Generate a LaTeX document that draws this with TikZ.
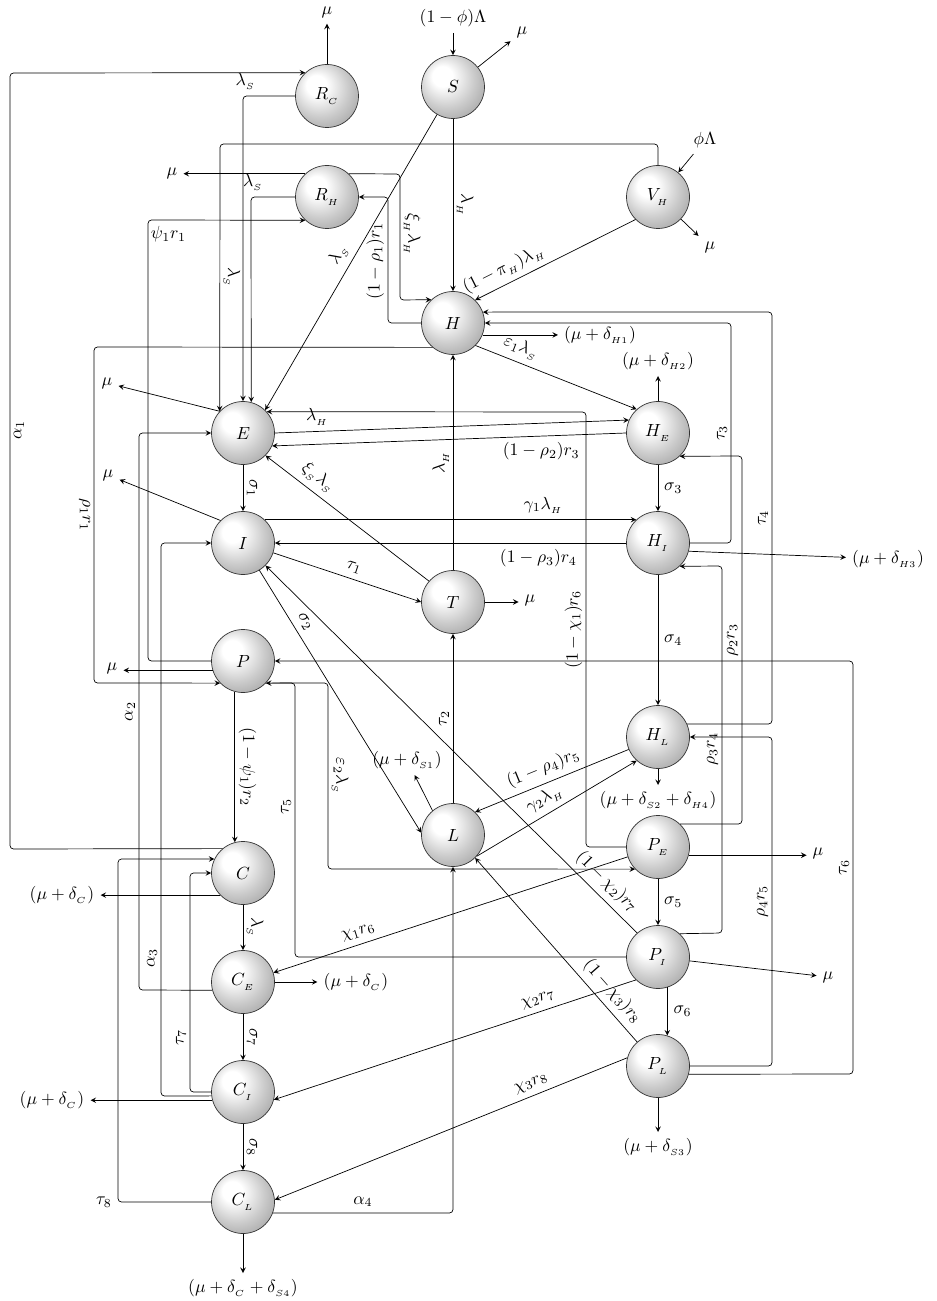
\documentclass[tikz,border=0pt]{standalone}
\pgfdeclareradialshading{silver}{\pgfpoint{-10bp}{10bp}}{color(0bp)=(white); color(8bp)=(white); color(22bp)=(black!20); color(36bp)=(black!38); color(50bp)=(black!60)}
\begin{document}
\begin{tikzpicture}[>=stealth, rounded corners=2pt,
  comp/.style={circle, draw=black!80, shading=silver, minimum size=1.26cm, inner sep=0pt},
  lblup/.style={rotate=90, inner sep=2pt},
  lbldn/.style={rotate=-90, inner sep=2pt}]
\useasboundingbox (0,0) rectangle (18.72,-26.02);
\node[comp] (RC) at (6.54,-1.92) {$R_{_C}$};
\node[comp] (S) at (9.06,-1.74) {$S$};
\node[comp] (RH) at (6.54,-3.94) {$R_{_H}$};
\node[comp] (VH) at (13.16,-3.94) {$V_{_H}$};
\node[comp] (H) at (9.06,-6.46) {$H$};
\node[comp] (E) at (4.86,-8.66) {$E$};
\node[comp] (HE) at (13.16,-8.66) {$H_{_E}$};
\node[comp] (I) at (4.86,-10.86) {$I$};
\node[comp] (HI) at (13.16,-10.86) {$H_{_I}$};
\node[comp] (T) at (9.06,-12.04) {$T$};
\node[comp] (P) at (4.86,-13.22) {$P$};
\node[comp] (HL) at (13.16,-14.74) {$H_{_L}$};
\node[comp] (L) at (9.06,-16.70) {$L$};
\node[comp] (PE) at (13.16,-16.94) {$P_{_E}$};
\node[comp] (C) at (4.86,-17.46) {$C$};
\node[comp] (PI) at (13.16,-19.14) {$P_{_I}$};
\node[comp] (CE) at (4.86,-19.64) {$C_{_E}$};
\node[comp] (PL) at (13.16,-21.32) {$P_{_L}$};
\node[comp] (CI) at (4.86,-21.84) {$C_{_I}$};
\node[comp] (CL) at (4.86,-24.04) {$C_{_L}$};
\node (inS) at (9.06,-0.36) {$(1-\phi)\Lambda$};
\node (inVH) at (14.10,-2.80) {$\phi\Lambda$};
\node (muS) at (10.44,-0.64) {$\mu$};
\node (muRC) at (6.54,-0.24) {$\mu$};
\node (muRH) at (3.44,-3.46) {$\mu$};
\node (muVH) at (14.20,-4.94) {$\mu$};
\node (muH) at (12.00,-6.70) {$(\mu+\delta_{_{H1}})$};
\node (muHE) at (13.16,-7.22) {$(\mu+\delta_{_{H2}})$};
\node (muE) at (2.14,-7.66) {$\mu$};
\node (muI) at (2.16,-9.50) {$\mu$};
\node (muHI) at (17.76,-11.18) {$(\mu+\delta_{_{H3}})$};
\node (muT) at (10.60,-12.00) {$\mu$};
\node (muP) at (2.24,-13.36) {$\mu$};
\node (muL) at (8.14,-15.20) {$(\mu+\delta_{_{S1}})$};
\node (muHL) at (13.16,-16.00) {$(\mu+\delta_{_{S2}}+\delta_{_{H4}})$};
\node (muPE) at (16.36,-17.06) {$\mu$};
\node (muC) at (1.24,-17.90) {$(\mu+\delta_{_C})$};
\node (muCE) at (7.12,-19.64) {$(\mu+\delta_{_C})$};
\node (muPI) at (16.56,-19.54) {$\mu$};
\node (muCI) at (1.04,-22.00) {$(\mu+\delta_{_C})$};
\node (muPL) at (13.16,-22.94) {$(\mu+\delta_{_{S3}})$};
\node (muCL) at (4.86,-25.76) {$(\mu+\delta_{_C}+\delta_{_{S4}})$};
\draw[->] (inS) -- (S);
\draw[->] (S) -- (muS);
\draw[->] (RC) -- (muRC);
\draw[->] (inVH) -- (VH);
\draw[->] (VH) -- (muVH);
\draw[->] (C.130) -- (0.20,-16.98) -- node[lblup, below, pos=.54] {$\alpha_1$} (0.20,-1.46) -- (RC.133);
\draw[->] (RC.west) -- node[pos=.95, above] {$\lambda_{_S}$} (4.86,-1.92) -- (E.north);
\draw[->] (VH.north) -- (13.16,-2.88) -- (4.40,-2.88) -- node[lbldn, above] {$\lambda_{_S}$} (E.137);
\draw[->] (RH.west) -- node[pos=.95, above] {$\lambda_{_S}$} (5.02,-3.94) -- (E.75);
\draw[->] (S) -- node[sloped, above] {$\lambda_{_S}$} (E.46);
\draw[->] (S) -- node[lbldn, above] {$\lambda_{_H}$} (H);
\draw[->] (RH.47) -- (8.00,-3.48) -- node[lbldn, above, pos=.48] {$\xi_{_H}\lambda_{_H}$} (8.00,-6.00) -- (H.133);
\draw[->] (RH.133) -- (RH.133 -| muRH.east);
\draw[->] (H.west) -- (7.76,-6.46) -- node[lblup, above, pos=.49] {$(1-\rho_1)r_1$} (7.76,-3.94) -- (RH.east);
\draw[->] (P.west) -- (2.96,-13.22) -- (2.96,-4.40) -- node[pos=.13, below] {$\psi_1r_1$} (RH.227);
\draw[->] (H.230) -- (1.88,-6.94) -- node[lbldn, below] {$\rho_1r_1$} (1.88,-13.66) -- (P.224);
\draw[->] (VH.225) -- node[sloped, above, pos=.78] {$(1-\pi_{_H})\lambda_{_H}$} (H.46);
\draw[->] (T) -- node[lblup, above] {$\lambda_{_H}$} (H);
\draw[->] (L) -- node[lblup, above] {$\tau_2$} (T);
\draw[->] (H.-22) -- (H.-22 -| muH.west);
\draw[->] (H.-45) -- node[sloped, above, pos=.25] {$\varepsilon_1\lambda_{_S}$} (HE.132);
\draw[->] (E.east) -- node[above, pos=.12] {$\lambda_{_H}$} (HE.156);
\draw[->] (HE.west) -- node[below, pos=.24] {$(1-\rho_2)r_3$} (E.-24);
\draw[->] (PE.west) -- (11.72,-16.94) -- node[lblup, above] {$(1-\chi_1)r_6$} (11.72,-8.24) -- (E.42);
\draw[->] (E) -- node[lbldn, above] {$\sigma_1$} (I);
\draw[->] (E.137) -- (muE);
\draw[->] (I.135) -- (muI);
\draw[->] (I.47) -- node[above, pos=.75] {$\gamma_1\lambda_{_H}$} (HI.133);
\draw[->] (HI.west) -- node[below, pos=.25] {$(1-\rho_3)r_4$} (I.east);
\draw[->] (I.-18) -- node[sloped, above, pos=.52] {$\tau_1$} (T.west);
\draw[->] (T.139) -- node[sloped, above, pos=.73] {$\xi_{_S}\lambda_{_S}$} (E.-45);
\draw[->] (T.east) -- (T.east -| muT.west);
\draw[->] (I.-59) -- node[sloped, above, pos=.22] {$\sigma_2$} (L.176);
\draw[->] (PI.131) -- node[sloped, above, pos=.11] {$(1-\chi_2)r_7$} (I.-45);
\draw[->] (PL.131) -- node[sloped, above, pos=.22] {$(1-\chi_3)r_8$} (L.-46);
\draw[->] (HL.203) -- node[sloped, above, pos=.52] {$(1-\rho_4)r_5$} (L.46);
\draw[->] (L.-42) -- node[sloped, above, pos=.47] {$\gamma_2\lambda_{_H}$} (HL.228);
\draw[->] (L.130) -- (muL);
\draw[->] (HE) -- node[right] {$\sigma_3$} (HI);
\draw[->] (HI) -- node[right] {$\sigma_4$} (HL);
\draw[->] (PE) -- node[right] {$\sigma_5$} (PI);
\draw[->] (PI.-73) -- node[right] {$\sigma_6$} (PL.73);
\draw[->] (HE) -- (muHE);
\draw[->] (HI.-15) -- (muHI);
\draw[->] (HL) -- (muHL);
\draw[->] (PE.-15) -- (PE.-15 -| muPE.west);
\draw[->] (PI.-7) -- (muPI);
\draw[->] (PL) -- (muPL);
\draw[->] (HI.east) -- (14.62,-10.86) -- node[lblup, above] {$\tau_3$} (14.62,-6.46) -- (H.east);
\draw[->] (HL.24) -- (15.44,-14.48) -- node[lblup, above] {$\tau_4$} (15.44,-6.24) -- (H.20);
\draw[->] (PE.46) -- (14.84,-16.48) -- node[lblup, above] {$\rho_2r_3$} (14.84,-9.12) -- (HE.-47);
\draw[->] (PI.47) -- (14.44,-18.66) -- node[lblup, above] {$\rho_3r_4$} (14.44,-11.32) -- (HI.-47);
\draw[->] (PL.east) -- (15.44,-21.32) -- node[lblup, above] {$\rho_4r_5$} (15.44,-14.74) -- (HL.east);
\draw[->] (PL.-15) -- (17.06,-21.48) -- node[lblup, above] {$\tau_6$} (17.06,-13.22) -- (P.east);
\draw[->] (PI.west) -- (5.90,-19.14) -- node[lblup, above, pos=.55] {$\tau_5$} (5.90,-13.66) -- (P.-44);
\draw[->] (P.-44) -- (6.56,-13.66) -- node[lbldn, above] {$\varepsilon_2\lambda_{_S}$} (6.56,-17.38) -- (PE.224);
\draw[->] (P.-105) -- node[lbldn, above] {$(1-\psi_1)r_2$} (C.105);
\draw[->] (P.197) -- (P.197 -| muP.east);
\draw[->] (C.224) -- (C.224 -| muC.east);
\draw[->] (C) -- node[lbldn, above] {$\lambda_{_S}$} (CE);
\draw[->] (CE) -- node[lbldn, above] {$\sigma_7$} (CI);
\draw[->] (CI) -- node[lbldn, above] {$\sigma_8$} (CL);
\draw[->] (CL) -- (muCL);
\draw[->] (CE) -- (muCE);
\draw[->] (CI.195) -- (CI.195 -| muCI.east);
\draw[->] (CE.195) -- (2.78,-19.80) -- node[lblup, above] {$\alpha_2$} (2.78,-8.66) -- (E.west);
\draw[->] (CI.187) -- (3.22,-21.92) -- node[lblup, above, pos=.25] {$\alpha_3$} (3.22,-10.86) -- (I.west);
\draw[->] (CI.west) -- (3.80,-21.84) -- node[lblup, above, pos=.25] {$\tau_7$} (3.80,-17.46) -- (C.west);
\draw[->] (CL.west) -- (2.36,-24.04) node[left] {$\tau_8$} -- (2.36,-17.18) -- (C.154);
\draw[->] (CL.-20) -- node[above] {$\alpha_4$} (9.06,-24.26) -- (L.south);
\draw[->] (PE.198) -- node[sloped, above, pos=.75] {$\chi_1r_6$} (CE.17);
\draw[->] (PI.226) -- node[sloped, above, pos=.26] {$\chi_2r_7$} (CI.-14);
\draw[->] (PL.165) -- node[sloped, above, pos=.26] {$\chi_3r_8$} (CL.4);
\end{tikzpicture}
\end{document}
